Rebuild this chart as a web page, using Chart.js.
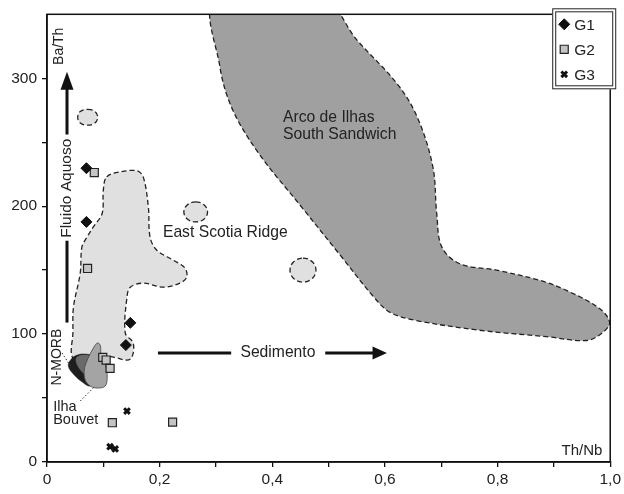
<!DOCTYPE html>
<html><head><meta charset="utf-8">
<script src="https://cdn.jsdelivr.net/npm/chart.js@4.4.1/dist/chart.umd.min.js"></script>
<style>html,body{margin:0;padding:0;background:#fff}#wrap{width:624px;height:494px}</style>
</head><body><div id="wrap"><canvas id="c" width="624" height="494"></canvas></div>
<script>
// ---- tick labels ----
const xTickValues = [0, 0.1, 0.2, 0.3, 0.4, 0.5, 0.6, 0.7, 0.8, 0.9, 1.0];
const xTickLabels = ['0', '', '0,2', '', '0,4', '', '0,6', '', '0,8', '', '1,0'];
const yTickValues = [0, 50, 100, 150, 200, 250, 300];
const yTickLabels = ['0', '', '100', '', '200', '', '300'];

// ---- samples [Th/Nb, Ba/Th] ----
const g1Points = [[0.070, 229.7], [0.070, 187.7], [0.148, 108.8], [0.140, 91.4]];
const g2Points = [[0.084, 226.3], [0.072, 151.3], [0.099, 81.8], [0.105, 79.7], [0.112, 73.2], [0.116, 30.7], [0.223, 31.2]];
const g3Points = [[0.142, 39.8], [0.112, 12.0], [0.121, 10.2]];

// ---- fields [Th/Nb, Ba/Th] ----
const arcoRegion = [[0.299, 362], [0.490, 362], [0.550, 330], [0.621, 296], [0.657, 270], [0.685, 231], [0.692, 194], [0.701, 168],
  [0.733, 155], [0.798, 150], [0.875, 142], [0.923, 134], [0.981, 120], [0.999, 109], [0.986, 101], [0.958, 95],
  [0.887, 98], [0.768, 103], [0.651, 111], [0.609, 117], [0.582, 128], [0.520, 162], [0.449, 201], [0.378, 240],
  [0.330, 275], [0.307, 309]];
const esrRegion = [[0.106, 222.9], [0.130, 226.8], [0.160, 227.6], [0.171, 222.7], [0.180, 199.2], [0.183, 175.8],
  [0.195, 165.6], [0.224, 157.8], [0.245, 151.6], [0.248, 144.5], [0.236, 139.8], [0.206, 136.7], [0.171, 139.8],
  [0.148, 136.7], [0.142, 128.9], [0.139, 100.8], [0.153, 93.0], [0.151, 82.0], [0.142, 79.7], [0.118, 82.0],
  [0.095, 83.6], [0.068, 81.0], [0.045, 82.0], [0.046, 100.8], [0.047, 121.0], [0.059, 147.7], [0.062, 168.0],
  [0.071, 175.8], [0.082, 183.6], [0.098, 194.5], [0.100, 212.5]];
const esrBlobA = [[0.0723, 275.7], [0.085, 274], [0.090, 269.5], [0.085, 265], [0.0723, 263.3], [0.059, 265], [0.0546, 269.5], [0.059, 274]];
const esrBlobB = [[0.264, 203.3], [0.279, 201], [0.285, 195.5], [0.279, 190], [0.264, 187.7], [0.249, 190], [0.243, 195.5], [0.249, 201]];
const esrBlobC = [[0.4545, 159.4], [0.471, 156.5], [0.4775, 150], [0.471, 143.5], [0.4545, 140.6], [0.438, 143.5], [0.4315, 150], [0.438, 156.5]];
const nmorbRegion = [[0.0378, 75], [0.0431, 80.5], [0.0537, 83.6], [0.0679, 84.4], [0.0803, 82.8], [0.0874, 75.8],
  [0.0856, 65.6], [0.0768, 59.4], [0.0626, 62.5], [0.0484, 68]];
const nmorbCore = [[0.052, 81.2], [0.066, 83.6], [0.077, 82], [0.080, 73.4], [0.070, 68.7], [0.057, 73.4]];
const bouvetRegion = [[0.0661, 71.9], [0.0715, 79.7], [0.0803, 87.5], [0.0892, 93], [0.0945, 91.4], [0.0963, 82.8],
  [0.1034, 76.6], [0.1069, 67.2], [0.1034, 59.4], [0.0892, 57.8], [0.0768, 59.4], [0.0679, 64]];

const FONT = '"Liberation Sans", Arial, sans-serif';
const toXY = arr => arr.map(([x, y]) => ({x, y}));

function region(data, fill, border, dash, width, order, tension) {
  return {data: toXY(data), showLine: true, fill: 'shape', backgroundColor: fill, borderColor: border,
    borderWidth: width, borderDash: dash, pointRadius: 0, pointHoverRadius: 0, pointHitRadius: 0,
    tension: tension, order: order, loopShape: true};
}

const DASH = [5, 3];
const datasets = [
  {label: 'G1', data: toXY(g1Points), pointStyle: 'rectRot', pointRadius: 5.5, backgroundColor: '#111', borderColor: '#111', borderWidth: 1, order: 0},
  {label: 'G2', data: toXY(g2Points), pointStyle: 'rect', pointRadius: 5.7, backgroundColor: '#c4c4c4', borderColor: '#222', borderWidth: 1.2, order: 0},
  {label: 'G3', data: toXY(g3Points), pointStyle: 'crossRot', pointRadius: 4, backgroundColor: '#111', borderColor: '#111', borderWidth: 3, order: 0},
  region(bouvetRegion, '#a4a4a4', '#444', [], 0.8, 1, 0.35),
  region(nmorbCore, '#6a6a6a', '#6a6a6a', [], 0.5, 2, 0.4),
  region(nmorbRegion, '#1e1e1e', '#1e1e1e', [], 0.5, 3, 0.4),
  region(esrBlobA, '#e0e0e0', '#222', DASH, 1.3, 4, 0.4),
  region(esrBlobB, '#e0e0e0', '#222', DASH, 1.3, 4, 0.4),
  region(esrBlobC, '#e0e0e0', '#222', DASH, 1.3, 4, 0.4),
  region(esrRegion, '#e0e0e0', '#222', DASH, 1.3, 5, 0.35),
  region(arcoRegion, '#a0a0a0', '#222', DASH, 1.3, 6, 0.35)
];

const annot = {
  id: 'annot',
  afterDatasetUpdate(chart, args) {
    const ds = chart.data.datasets[args.index];
    const line = args.meta && args.meta.dataset;
    if (ds.loopShape && line) {
      line._loop = true; line._fullLoop = true; line._segments = undefined; line._pointsUpdated = false; line._path = undefined;
    }
  },
  afterDatasetsDraw(chart) {
    const {ctx, chartArea: a, scales: {x, y}} = chart;
    const X = v => x.getPixelForValue(v), Y = v => y.getPixelForValue(v);
    ctx.save();
    ctx.strokeStyle = '#111'; ctx.lineWidth = 1.5;
    ctx.strokeRect(a.left, a.top, a.right - a.left, a.bottom - a.top);

    ctx.fillStyle = '#222';
    ctx.textBaseline = 'middle';
    ctx.font = '15.7px ' + FONT;
    ctx.textAlign = 'left';
    ctx.fillText('Arco de Ilhas', X(0.419), Y(269.5));
    ctx.fillText('South Sandwich', X(0.419), Y(256));
    ctx.textAlign = 'center';
    ctx.fillText('East Scotia Ridge', X(0.3165), Y(179));
    ctx.fillText('Sedimento', X(0.41), Y(85.2));
    ctx.textAlign = 'right';
    ctx.font = '15px ' + FONT;
    ctx.fillText('Th/Nb', X(0.986), Y(8.6));
    ctx.textAlign = 'left';
    ctx.font = '14.5px ' + FONT;
    ctx.fillText('Ilha', X(0.011), Y(43));
    ctx.fillText('Bouvet', X(0.011), Y(32.5));

    const rot = (t, xv, yv, size) => {
      ctx.save(); ctx.translate(X(xv), Y(yv)); ctx.rotate(-Math.PI / 2);
      ctx.textAlign = 'center'; ctx.font = size + 'px ' + FONT; ctx.fillText(t, 0, 0); ctx.restore();
    };
    rot('Fluido Aquoso', 0.0342, 214, 15.5);
    rot('Ba/Th', 0.0218, 325, 14);
    rot('N-MORB', 0.0183, 82, 14);

    ctx.strokeStyle = '#111'; ctx.fillStyle = '#111'; ctx.lineWidth = 3; ctx.lineCap = 'butt';
    const seg = (x1, y1, x2, y2) => { ctx.beginPath(); ctx.moveTo(x1, y1); ctx.lineTo(x2, y2); ctx.stroke(); };
    const ax = X(0.0355);
    seg(ax, Y(109), ax, Y(173));
    seg(ax, Y(256), ax, Y(293));
    ctx.beginPath(); ctx.moveTo(ax, Y(305)); ctx.lineTo(ax - 6.5, Y(291)); ctx.lineTo(ax + 6.5, Y(291)); ctx.closePath(); ctx.fill();
    const sy = Y(85.2);
    seg(X(0.197), sy, X(0.327), sy);
    seg(X(0.494), sy, X(0.582), sy);
    ctx.beginPath(); ctx.moveTo(X(0.6035), sy); ctx.lineTo(X(0.578), sy - 6.5); ctx.lineTo(X(0.578), sy + 6.5); ctx.closePath(); ctx.fill();

    ctx.lineWidth = 1; ctx.setLineDash([1.5, 2]); ctx.strokeStyle = '#333';
    seg(X(0.0266), Y(85.2), X(0.0443), Y(73.4));
    seg(X(0.059), Y(47.7), X(0.0839), Y(58.6));
    ctx.restore();
  },
  afterDraw(chart) {
    const {ctx, chartArea: a} = chart;
    const L = a.right - 58, T = a.top - 6, W = 64, H = 81;
    ctx.save();
    ctx.fillStyle = '#fff'; ctx.fillRect(L, T, W, H);
    ctx.strokeStyle = '#222'; ctx.lineWidth = 1;
    ctx.strokeRect(L + 0.5, T + 0.5, W - 1, H - 1);
    ctx.strokeRect(L + 3.5, T + 3.5, W - 7, H - 7);
    const items = [['G1', 'rectRot'], ['G2', 'rect'], ['G3', 'crossRot']];
    ctx.font = '15.5px ' + FONT; ctx.textBaseline = 'middle'; ctx.textAlign = 'left';
    items.forEach((it, i) => {
      const cy = T + 16 + i * 25, cx = L + 12;
      const ds = chart.data.datasets[i];
      ctx.fillStyle = ds.backgroundColor; ctx.strokeStyle = ds.borderColor; ctx.lineWidth = ds.borderWidth;
      Chart.helpers.drawPoint(ctx, {pointStyle: it[1], radius: ds.pointRadius, rotation: 0, borderWidth: ds.borderWidth}, cx, cy);
      ctx.fillStyle = '#222';
      ctx.fillText(it[0], L + 22, cy + 1);
    });
    ctx.restore();
  }
};

new Chart(document.getElementById('c'), {
  type: 'scatter',
  data: {datasets},
  plugins: [annot],
  options: {
    responsive: false, animation: false, devicePixelRatio: 1,
    layout: {padding: {left: 0, right: 13, top: 14, bottom: 0}},
    plugins: {legend: {display: false}, tooltip: {enabled: false}},
    scales: {
      x: {
        type: 'linear', min: 0, max: 1,
        afterBuildTicks: s => { s.ticks = xTickValues.map(v => ({value: v})); },
        afterFit: s => { s.height = 32; },
        ticks: {autoSkip: false, maxRotation: 0, padding: 3, color: '#222', font: {family: FONT, size: 15.5},
          callback: (v, i) => xTickLabels[i]},
        grid: {display: true, drawOnChartArea: false, drawTicks: true, tickLength: 5, color: '#111', lineWidth: 1.3},
        border: {display: true, color: '#111', width: 1.5}
      },
      y: {
        type: 'linear', min: 0, max: 350,
        afterBuildTicks: s => { s.ticks = yTickValues.map(v => ({value: v})); },
        afterFit: s => { s.width = 47; },
        ticks: {autoSkip: false, padding: 5, color: '#222', font: {family: FONT, size: 15.5},
          callback: (v, i) => yTickLabels[i]},
        grid: {display: true, drawOnChartArea: false, drawTicks: true, tickLength: 5, color: '#111', lineWidth: 1.3},
        border: {display: true, color: '#111', width: 1.5}
      }
    }
  }
});
</script></body></html>
